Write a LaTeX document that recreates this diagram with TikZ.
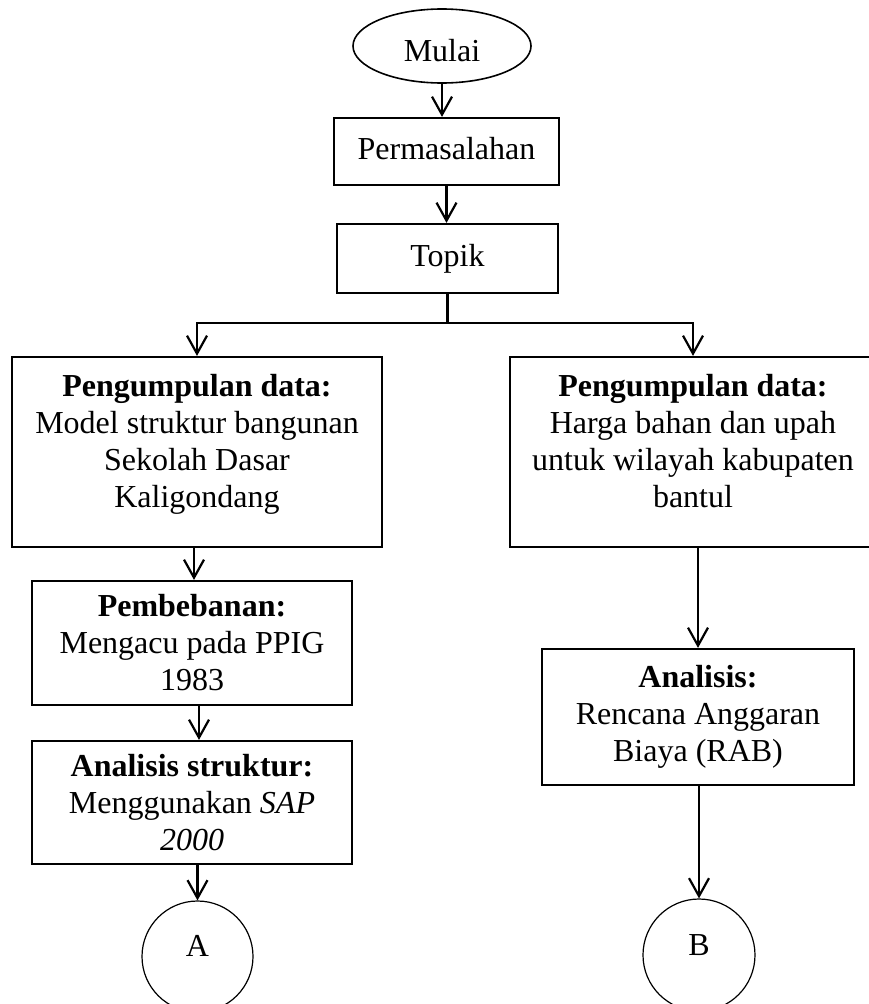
\documentclass[tikz,border=0pt]{standalone}
\usepackage{fontspec}
\setmainfont{Liberation Serif}
\usetikzlibrary{arrows.meta,shapes.geometric}
\newcommand\myfs{\fontsize{32}{37}\selectfont}
\tikzset{
  bh/.tip={Straight Barb[length=18pt,width=20pt]},
  box/.style={draw, line width=2.2pt, rectangle, inner sep=0pt, align=center, font=\myfs},
  term/.style={draw, line width=1.6pt, ellipse, inner sep=0pt, font=\myfs, text height=30pt, text depth=0pt},
  conn/.style={draw, line width=1.2pt, circle, inner sep=0pt, font=\myfs, text height=12pt, text depth=12pt},
  link/.style={line width=2.2pt},
  arr/.style={line width=2.2pt, -bh},
}
\begin{document}
\begin{tikzpicture}[x=1pt,y=-1pt]
\path[use as bounding box, fill=white] (0,0) rectangle (869,1004);

\node[term, minimum width=178pt, minimum height=74pt] (mulai) at (442,46) {Mulai};
\node[box, minimum width=225pt, minimum height=67pt, text height=22pt, text depth=7pt] (masalah) at (446.5,151.5) {Permasalahan};
\node[box, minimum width=221pt, minimum height=69pt, text height=22pt, text depth=7pt] (topik) at (447.5,258.5) {Topik};

\node[box, minimum width=370pt, minimum height=190pt] (dataL) at (197,452)
  {\textbf{Pengumpulan data:}\\Model struktur bangunan\\Sekolah Dasar\\Kaligondang\\[-14pt]\mbox{}};
\node[box, minimum width=366pt, minimum height=190pt] (dataR) at (693,452)
  {\textbf{Pengumpulan data:}\\Harga bahan dan upah\\untuk wilayah kabupaten\\bantul\\[-14pt]\mbox{}};

\node[box, minimum width=320pt, minimum height=124pt] (beban) at (192,643)
  {\textbf{Pembebanan:}\\Mengacu pada PPIG\\1983};
\node[box, minimum width=320pt, minimum height=123pt] (struktur) at (192,802.5)
  {\textbf{Analisis struktur:}\\Menggunakan \textit{SAP}\\\textit{2000}};
\node[box, minimum width=312pt, minimum height=136pt] (rab) at (698,717)
  {\textbf{Analisis:}\\Rencana Anggaran\\Biaya (RAB)};

\node[conn, minimum size=111pt] (A) at (197.5,956.5) {A};
\node[conn, minimum size=112pt] (B) at (699,955) {B};

\coordinate (jn) at (446,323);

\draw[arr] (mulai.south) -- (mulai.south |- masalah.north);
\draw[arr] (masalah.south) -- (masalah.south |- topik.north);
\draw[link] (topik.south) -- (topik.south |- jn);
\draw[link, bh-bh] (dataL.north) -- (dataL.north |- jn) -- (dataR.north |- jn) -- (dataR.north);
\draw[arr] ([xshift=-3pt]dataL.south) -- ([xshift=-3pt]dataL.south |- beban.north);
\draw[arr] ([xshift=7pt]beban.south) -- ([xshift=7pt]beban.south |- struktur.north);
\draw[arr] (A.north |- struktur.south) -- (A.north);
\draw[arr] (rab.north |- dataR.south) -- (rab.north);
\draw[arr] (B.north |- rab.south) -- (B.north);
\end{tikzpicture}
\end{document}
